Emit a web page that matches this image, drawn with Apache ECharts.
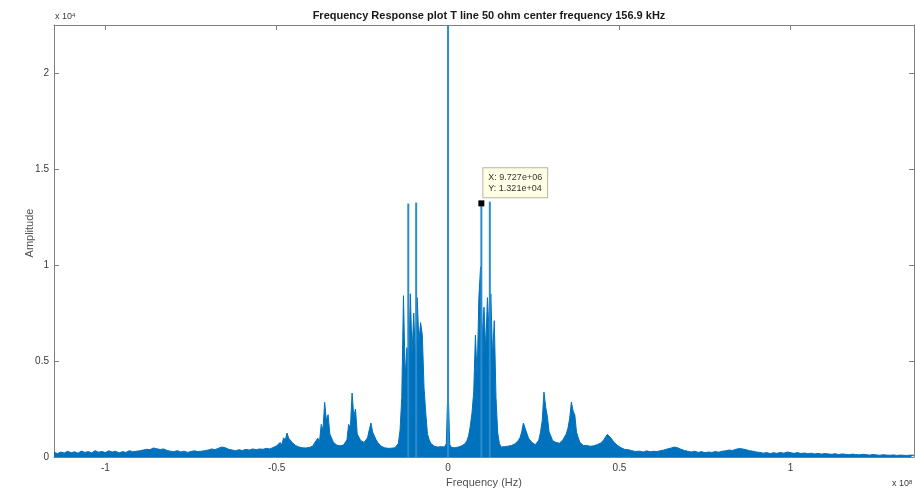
<!DOCTYPE html>
<html>
<head>
<meta charset="utf-8">
<script src="https://cdn.jsdelivr.net/npm/echarts@6/dist/echarts.min.js"></script>
<style>
  html, body { margin: 0; padding: 0; background: #fff; }
  #chart { width: 915px; height: 493px; }
</style>
</head>
<body>
<div id="chart"></div>
<script>
// frequencies in MHz (axis shows x 10^8 Hz), amplitude raw
const lowBandStart = -115
const lowBandStep = 1
const lowBandAmp = [
  250, 180, 260, 210, 300, 220, 270, 200, 310, 240,
  280, 210, 330, 250, 290, 230, 320, 260, 300, 210,
  280, 240, 330, 270, 300, 320, 360, 400, 380, 470,
  430, 390, 420, 340, 300, 280, 330, 260, 300, 240,
  290, 320, 280, 300, 330, 360, 420, 380, 460, 520,
  480, 400, 360, 330, 380, 340, 400, 360, 420, 380
]

const leftSideStart = -55
const leftSideStep = 0.5
const leftSideAmp = [
  420, 350, 400, 330, 450, 380, 420, 360, 500, 460,
  580, 520, 760, 640, 1000, 880, 1250, 980, 1080, 760,
  820, 600, 640, 520, 560, 480, 540, 470, 560, 500,
  600, 560, 720, 640, 980, 820, 1700, 1400, 2850, 1900,
  2200, 1200, 1250, 780, 820, 620, 700, 580, 660, 620,
  760, 900, 1700, 1500, 3330, 2100, 2500, 1200, 1300, 860,
  920, 760, 860, 1000, 1400, 1770, 1300, 1400, 900, 760,
  700, 560, 620, 480, 540, 450, 520, 460, 540, 480
]

const centerStart = -15
const centerStep = 0.5
const centerAmp = [
  520, 700, 1400, 3100, 8400, 4200, 5700, 4600, 8500, 5400,
  7500, 5000, 8300, 6000, 7000, 6350, 3600, 2300, 1200, 900,
  700, 620, 560, 600, 520, 480, 540, 460, 520, 700,
  3850, 650, 500, 540, 480, 560, 520, 600, 580, 640,
  700, 850, 1100, 1600, 2300, 3400, 6350, 4200, 8300, 9900,
  6200, 7800, 5600, 8300, 6450, 8500, 5200, 7100, 3100, 1250,
  700
]

const rightSideStart = 15.5
const rightSideStep = 0.5
const rightSideAmp = [
  520, 460, 540, 480, 560, 500, 600, 560, 680, 640,
  860, 1000, 1300, 1770, 1500, 1400, 980, 900, 760, 720,
  640, 700, 880, 1300, 1900, 3380, 2600, 2100, 1300, 1100,
  860, 900, 760, 800, 720, 820, 880, 940, 1200, 1500,
  2000, 2860, 2400, 2200, 1300, 1000, 760, 700, 600, 560,
  600, 520, 560, 500, 580, 540, 640, 600, 720, 780,
  900, 1050, 1180, 1250, 1000, 980, 760, 720, 600, 560,
  480, 420, 400, 360, 380, 300, 340, 330, 290, 280
]

const highBandStart = 56
const highBandStep = 1
const highBandAmp = [
  300, 260, 320, 270, 300, 280, 330, 360, 420, 460,
  520, 480, 400, 340, 300, 260, 300, 240, 280, 220,
  260, 240, 280, 250, 300, 320, 360, 340, 400, 440,
  420, 380, 330, 300, 260, 240, 200, 230, 180, 220,
  190, 240, 200, 260, 220, 190, 230, 180, 210, 170,
  200, 160, 190, 150, 180, 160, 140, 170, 130, 160,
  140, 120, 150, 130, 110, 140, 120, 100, 130, 110,
  90, 120, 100, 90, 110, 80, 100, 90, 80, 100, 90
]

// narrow tall lines
const spikeFreq = [-11.6, -9.3, 0, 9.727, 12.2]
const spikeAmp = [13200, 13250, 25000, 13210, 13300]

// data tip
const tipFreqHz = 9.727e6
const tipAmp = 1.321e4

const xTicks = [-100, -50, 0, 50, 100]
const yTicks = [0, 5000, 10000, 15000, 20000]

const band = (start, step, amps) => amps.map((a, i) => [start + i * step, a])
const spectrum = [
  ...band(lowBandStart, lowBandStep, lowBandAmp),
  ...band(leftSideStart, leftSideStep, leftSideAmp),
  ...band(centerStart, centerStep, centerAmp),
  ...band(rightSideStart, rightSideStep, rightSideAmp),
  ...band(highBandStart, highBandStep, highBandAmp)
]
const spikes = spikeFreq.map((f, i) => [f, spikeAmp[i]])

const matlabExp = v => {
  const parts = v.toExponential(3).split('e')
  const n = parseInt(parts[1], 10)
  return parts[0] + 'e' + (n < 0 ? '-' : '+') + String(Math.abs(n)).padStart(2, '0')
}

const blue = '#0072BD'
const axisGray = '#7f7f7f'
const labelColor = '#3a3a3a'
const font = 'Liberation Sans, Arial, sans-serif'

const chart = echarts.init(document.getElementById('chart'))

const boxAxis = {
  type: 'value',
  axisLine: { show: true, onZero: false, lineStyle: { color: axisGray } },
  axisLabel: { show: false },
  splitLine: { show: false }
}

const option = {
  animation: false,
  backgroundColor: '#fff',
  textStyle: { fontFamily: font },
  title: {
    text: 'Frequency Response plot T line 50 ohm center frequency 156.9 kHz',
    left: 484,
    top: 5,
    textAlign: 'center',
    textStyle: { fontSize: 11, fontWeight: 'bold', color: '#1a1a1a', fontFamily: font }
  },
  grid: { left: 54, right: 1, top: 25, bottom: 36 },
  xAxis: [
    {
      type: 'value',
      min: -115,
      max: 136,
      name: 'Frequency (Hz)',
      nameLocation: 'middle',
      nameGap: 20,
      nameMoveOverlap: false,
      nameTextStyle: { fontSize: 11, color: '#505050' },
      axisLine: { show: true, onZero: false, lineStyle: { color: axisGray } },
      axisTick: { inside: true, length: 5, customValues: xTicks, lineStyle: { color: axisGray } },
      axisLabel: { customValues: xTicks, formatter: v => String(v / 100), fontSize: 10, color: labelColor, margin: 6 },
      splitLine: { show: false }
    },
    {
      ...boxAxis,
      position: 'top',
      min: -115,
      max: 136,
      axisTick: { show: true, inside: true, length: 5, customValues: xTicks, lineStyle: { color: axisGray } }
    }
  ],
  yAxis: [
    {
      type: 'value',
      min: 0,
      max: 22500,
      axisLine: { show: true, onZero: false, lineStyle: { color: axisGray } },
      axisTick: { show: true, inside: true, length: 5, customValues: yTicks, lineStyle: { color: axisGray } },
      axisLabel: { customValues: yTicks, formatter: v => String(v / 10000), fontSize: 10, color: labelColor, margin: 5 },
      splitLine: { show: false }
    },
    {
      ...boxAxis,
      position: 'right',
      min: 0,
      max: 22500,
      axisTick: { show: true, inside: true, length: 5, customValues: yTicks, lineStyle: { color: axisGray } }
    }
  ],
  series: [
    {
      type: 'line',
      data: spectrum,
      symbol: 'none',
      sampling: null,
      lineStyle: { width: 1, color: blue },
      areaStyle: { color: blue, opacity: 1 },
      z: 2,
      silent: true,
      markPoint: {
        silent: true,
        symbol: 'rect',
        symbolSize: 6,
        itemStyle: { color: '#000' },
        data: [{ coord: [tipFreqHz / 1e6, tipAmp] }],
        label: {
          show: true,
          position: [5, -32],
          formatter: 'X: ' + matlabExp(tipFreqHz) + '\nY: ' + matlabExp(tipAmp),
          fontSize: 9,
          lineHeight: 11,
          color: '#333',
          align: 'left',
          verticalAlign: 'top',
          backgroundColor: '#ffffe6',
          borderColor: '#b5b5a5',
          borderWidth: 1,
          padding: [4, 5, 3, 5]
        }
      }
    },
    {
      type: 'bar',
      data: spikes,
      barWidth: 2,
      itemStyle: { color: '#2a8ccd' },
      z: 3,
      silent: true
    }
  ],
  graphic: [
    {
      type: 'text',
      x: 30,
      y: 233,
      rotation: Math.PI / 2,
      style: {
        text: 'Amplitude',
        align: 'center',
        verticalAlign: 'middle',
        fontSize: 11,
        fill: '#505050',
        fontFamily: font
      }
    },
    {
      type: 'text',
      left: 55,
      top: 12,
      style: {
        text: '{a|x 10}{b|4}',
        rich: {
          a: { fontSize: 9, fill: labelColor, fontFamily: font },
          b: { fontSize: 6, fill: labelColor, fontFamily: font, verticalAlign: 'top' }
        }
      }
    },
    {
      type: 'text',
      left: 892,
      top: 479,
      style: {
        text: '{a|x 10}{b|8}',
        rich: {
          a: { fontSize: 9, fill: labelColor, fontFamily: font },
          b: { fontSize: 6, fill: labelColor, fontFamily: font, verticalAlign: 'top' }
        }
      }
    }
  ]
}

chart.setOption(option)
</script>
</body>
</html>
